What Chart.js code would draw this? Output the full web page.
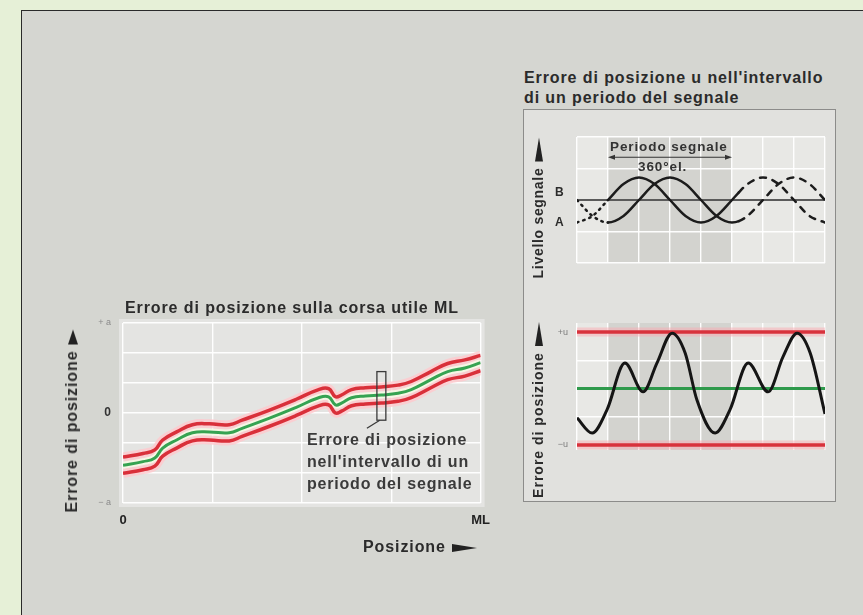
<!DOCTYPE html>
<html>
<head>
<meta charset="utf-8">
<script src="https://cdn.jsdelivr.net/npm/chart.js@4.4.1/dist/chart.umd.min.js"></script>
<style>
  body { margin: 0; width: 863px; height: 615px; background: #e6f0d7; overflow: hidden;
         font-family: "Liberation Sans", Arial, sans-serif; position: relative; }
  #panel { position: absolute; left: 21px; top: 10px; width: 842px; height: 605px; background: #d5d6d1;
           border-left: 1.5px solid #2a2a2a; border-top: 1.5px solid #2a2a2a; }
  #frame { position: absolute; left: 523px; top: 109px; width: 313px; height: 393px; box-sizing: border-box;
           background: #e1e1de; border: 1.5px solid #8c8c8a; }
  .t { position: absolute; font-weight: bold; color: #2b2b2b; white-space: nowrap; letter-spacing: 0.9px; }
  .rot { transform: translate(-50%, -50%) rotate(-90deg); }
  .wedge { display: inline-block; width: 0; height: 0; border-left: 22px solid #222;
           border-top: 4px solid transparent; border-bottom: 4px solid transparent;
           vertical-align: middle; margin-left: 6px; }
  canvas { position: absolute; }
</style>
</head>
<body>
<div id="panel"></div>
<div id="frame"></div>

<canvas id="pathChart" width="460" height="230" style="left:40px;top:300px"></canvas>
<canvas id="signalChart" width="313" height="170" style="left:523px;top:109px"></canvas>
<canvas id="errorChart" width="313" height="180" style="left:523px;top:300px"></canvas>

<div class="t" style="left:125px;top:299px;font-size:16px;line-height:18px">Errore di posizione sulla corsa utile ML</div>
<div class="t" style="left:524px;top:68px;font-size:16px;line-height:20px">Errore di posizione u nell'intervallo<br>di un periodo del segnale</div>
<div class="t" style="left:307px;top:429px;font-size:16px;line-height:22px;color:#3a3a3a;letter-spacing:0.8px">Errore di posizione<br>nell'intervallo di un<br>periodo del segnale</div>
<div class="t rot" style="left:72px;top:421px;font-size:16px">Errore di posizione<span class="wedge" style="border-left-width:15px;border-top-width:5px;border-bottom-width:5px"></span></div>
<div class="t" style="left:363px;top:538px;font-size:16px;line-height:18px">Posizione<span class="wedge" style="border-left-width:25px"></span></div>

<div class="t rot" style="left:538px;top:208px;font-size:14px;letter-spacing:0.7px">Livello segnale<span class="wedge" style="border-left-width:24px;border-top-width:4px;border-bottom-width:4px"></span></div>
<div class="t rot" style="left:538px;top:410px;font-size:14px;letter-spacing:1px">Errore di posizione<span class="wedge" style="border-left-width:24px;border-top-width:4px;border-bottom-width:4px"></span></div>
<div class="t" style="left:610px;top:139px;font-size:13.5px;line-height:16px;letter-spacing:0.9px;color:#333">Periodo segnale</div>
<div class="t" style="left:638px;top:159px;font-size:13.5px;line-height:16px;color:#333">360°el.</div>
<div class="t" style="left:555px;top:185px;font-size:12px;line-height:14px">B</div>
<div class="t" style="left:555px;top:215px;font-size:12px;line-height:14px">A</div>

<script>
  Chart.defaults.font.family = '"Liberation Sans", Arial, sans-serif';
  Chart.defaults.animation = false;

  // --- left chart: position error over the measuring length ML (x 0..1, y in units of a)
  const posX     = [0, 0.056, 0.089, 0.111, 0.15, 0.194, 0.242, 0.297, 0.333, 0.408, 0.483, 0.547,
                    0.575, 0.594, 0.611, 0.639, 0.678, 0.722, 0.769, 0.806, 0.861, 0.908, 0.956, 1];
  const errMid   = [-0.58, -0.54, -0.50, -0.39, -0.30, -0.22, -0.21, -0.22, -0.17, -0.06, 0.06, 0.17,
                    0.18, 0.09, 0.11, 0.17, 0.19, 0.20, 0.22, 0.26, 0.37, 0.46, 0.50, 0.56];
  const errUpper = [-0.49, -0.45, -0.41, -0.30, -0.21, -0.13, -0.12, -0.13, -0.08, 0.03, 0.15, 0.26,
                    0.27, 0.18, 0.20, 0.26, 0.28, 0.29, 0.31, 0.35, 0.46, 0.55, 0.59, 0.64];
  const errLower = [-0.67, -0.63, -0.59, -0.48, -0.39, -0.31, -0.30, -0.31, -0.26, -0.15, -0.03, 0.08,
                    0.09, 0.00, 0.02, 0.08, 0.10, 0.11, 0.13, 0.17, 0.28, 0.37, 0.41, 0.47];
  const posTicks = [0, 0.25, 0.5, 0.75, 1];
  const errTicks = [-1, -2 / 3, -1 / 3, 0, 1 / 3, 2 / 3, 1];
  const windowBox = { x: [0.71, 0.735], y: [-0.08, 0.46] };   // the one-period window
  const leaderLine = { x: [0.718, 0.682], y: [-0.08, -0.17] };

  // --- right charts: one signal period, x in electrical degrees
  const sigAngle = [-90, -45, 0, 45, 90, 135, 180, 225, 270, 315, 360, 380, 405, 450, 495, 540, 585, 630];
  const signalA  = [-1, -0.71, 0, 0.71, 1, 0.71, 0, -0.71, -1, -0.71, 0, 0.34, 0.71, 1, 0.71, 0, -0.71, -1];
  const signalB  = [0, -0.71, -1, -0.71, 0, 0.71, 1, 0.71, 0, -0.71, -1, -0.94, -0.71, 0, 0.71, 1, 0.71, 0];
  const errAngle = [-90, -46, -3, 49, 102, 142, 186, 224, 258, 311, 354, 407, 465, 508, 549, 587, 630];
  const errValue = [-0.52, -0.79, -0.38, 0.45, -0.06, 0.45, 0.98, 0.63, -0.2, -0.79, -0.38, 0.45,
                    -0.06, 0.56, 0.98, 0.63, -0.45];
  const lineAngle  = [-90, 630];
  const zeroLevel  = [0, 0];
  const upperLimit = [1, 1];
  const lowerLimit = [-1, -1];
  const angleTicks = [-90, 0, 90, 180, 270, 360, 450, 540, 630];
  const levelTicks = [-2.8, -1.4, 0, 1.4, 2.8];
  const uTicks     = [-1, -0.5, 0, 0.5, 1];
  const periodSpan = [0, 360];
  const periodArrowLevel = 1.9;

  const pts = (xs, ys) => xs.map((x, i) => ({ x: x, y: ys[i] }));
  const near = (a, b) => Math.abs(a - b) < 1e-6;
  const isZeroTick = ctx => !!(ctx.tick && near(ctx.tick.value, 0));

  function curve(xs, ys, colour, width, order, extra) {
    return Object.assign({
      data: pts(xs, ys), borderColor: colour, borderWidth: width, order: order,
      pointRadius: 0, cubicInterpolationMode: 'monotone', fill: false
    }, extra || {});
  }
  const smooth = { cubicInterpolationMode: 'default', tension: 0.45 };

  function fixedTicks(values) {
    return function (scale) { scale.ticks = values.map(v => ({ value: v })); };
  }

  function backdrop(colour, pad, shade) {
    return {
      id: 'backdrop',
      beforeDraw(chart) {
        const a = chart.chartArea, c = chart.ctx;
        c.save();
        c.fillStyle = colour;
        c.fillRect(a.left - pad, a.top - pad, a.right - a.left + 2 * pad, a.bottom - a.top + 2 * pad);
        if (shade) {
          const x0 = chart.scales.x.getPixelForValue(shade[0]);
          const x1 = chart.scales.x.getPixelForValue(shade[1]);
          c.fillStyle = '#d3d3cf';
          c.fillRect(x0, a.top, x1 - x0, a.bottom - a.top);
        }
        c.restore();
      }
    };
  }

  const gridWhite = { color: 'rgba(255,255,255,0.95)', lineWidth: 1.4, drawTicks: false };

  // left chart
  new Chart(document.getElementById('pathChart'), {
    type: 'line',
    data: {
      datasets: [
        curve(posX, errMid, '#36a352', 3, 1, smooth),
        curve(posX, errUpper, '#d9303a', 3.5, 2, smooth),
        curve(posX, errLower, '#d9303a', 3.5, 2, smooth),
        curve(posX, errMid, 'rgba(246,248,228,0.9)', 7, 3, smooth),
        curve(posX, errUpper, 'rgba(255,200,205,0.8)', 9, 4, smooth),
        curve(posX, errLower, 'rgba(255,200,205,0.8)', 9, 4, smooth)
      ]
    },
    options: {
      responsive: false,
      layout: { padding: { top: 23, right: 17, left: 0, bottom: 0 } },
      plugins: { legend: { display: false }, tooltip: { enabled: false } },
      scales: {
        x: {
          type: 'linear', min: 0, max: 1,
          afterBuildTicks: fixedTicks(posTicks),
          afterFit: s => { s.height = 27; },
          grid: gridWhite, border: { display: false },
          ticks: {
            autoSkip: false, maxRotation: 0, padding: 10, color: '#222',
            font: { size: 13, weight: 'bold' },
            callback: v => near(v, 0) ? '0' : (near(v, 1) ? 'ML' : '')
          }
        },
        y: {
          min: -1, max: 1,
          afterBuildTicks: fixedTicks(errTicks),
          afterFit: s => { s.width = 83; },
          grid: gridWhite, border: { display: false },
          ticks: {
            autoSkip: false, padding: 12,
            color: ctx => isZeroTick(ctx) ? '#333' : '#8a8a8a',
            font: ctx => isZeroTick(ctx) ? { size: 12, weight: 'bold' } : { size: 9 },
            callback: v => near(v, 1) ? '+ a' : (near(v, -1) ? '− a' : (near(v, 0) ? '0' : ''))
          }
        }
      }
    },
    plugins: [backdrop('#e4e4e2', 4), {
      id: 'window',
      afterDatasetsDraw(chart) {
        const sx = chart.scales.x, sy = chart.scales.y, c = chart.ctx;
        const x0 = sx.getPixelForValue(windowBox.x[0]), x1 = sx.getPixelForValue(windowBox.x[1]);
        const y0 = sy.getPixelForValue(windowBox.y[1]), y1 = sy.getPixelForValue(windowBox.y[0]);
        c.save();
        c.strokeStyle = '#3a3a3a';
        c.lineWidth = 1.3;
        c.strokeRect(x0, y0, x1 - x0, y1 - y0);
        c.beginPath();
        c.moveTo(sx.getPixelForValue(leaderLine.x[0]), sy.getPixelForValue(leaderLine.y[0]));
        c.lineTo(sx.getPixelForValue(leaderLine.x[1]), sy.getPixelForValue(leaderLine.y[1]));
        c.stroke();
        c.restore();
      }
    }]
  });

  // signal chart (A and B)
  const signalDash = {
    borderDash: ctx => ctx.p0.parsed.x < 0 ? [1.5, 5] : (ctx.p0.parsed.x >= 380 ? [6, 7] : undefined)
  };
  new Chart(document.getElementById('signalChart'), {
    type: 'line',
    data: {
      datasets: [
        curve(sigAngle, signalA, '#1c1c1c', 2.5, 1, { segment: signalDash, borderCapStyle: 'round' }),
        curve(sigAngle, signalB, '#1c1c1c', 2.5, 1, { segment: signalDash, borderCapStyle: 'round' }),
        curve(lineAngle, zeroLevel, '#5a5a5a', 2, 2)
      ]
    },
    options: {
      responsive: false,
      layout: { padding: { top: 28, right: 11, left: 54, bottom: 16 } },
      plugins: { legend: { display: false }, tooltip: { enabled: false } },
      scales: {
        x: {
          type: 'linear', min: -90, max: 630,
          afterBuildTicks: fixedTicks(angleTicks),
          afterFit: s => { s.height = 0; },
          grid: gridWhite, border: { display: false }, ticks: { display: false }
        },
        y: {
          min: -2.8, max: 2.8,
          afterBuildTicks: fixedTicks(levelTicks),
          afterFit: s => { s.width = 0; },
          grid: gridWhite, border: { display: false }, ticks: { display: false }
        }
      }
    },
    plugins: [backdrop('#e8e8e5', 0, periodSpan), {
      id: 'periodArrow',
      afterDatasetsDraw(chart) {
        const sx = chart.scales.x, c = chart.ctx;
        const x0 = sx.getPixelForValue(periodSpan[0]), x1 = sx.getPixelForValue(periodSpan[1]);
        const y = chart.scales.y.getPixelForValue(periodArrowLevel);
        c.save();
        c.strokeStyle = '#333'; c.fillStyle = '#333'; c.lineWidth = 1.2;
        c.beginPath(); c.moveTo(x0 + 3, y); c.lineTo(x1 - 3, y); c.stroke();
        c.beginPath(); c.moveTo(x0, y); c.lineTo(x0 + 7, y - 2.5); c.lineTo(x0 + 7, y + 2.5); c.closePath(); c.fill();
        c.beginPath(); c.moveTo(x1, y); c.lineTo(x1 - 7, y - 2.5); c.lineTo(x1 - 7, y + 2.5); c.closePath(); c.fill();
        c.restore();
      }
    }]
  });

  // position error within one signal period
  new Chart(document.getElementById('errorChart'), {
    type: 'line',
    data: {
      datasets: [
        curve(errAngle, errValue, '#151515', 3, 1),
        curve(lineAngle, upperLimit, '#d8323c', 3.5, 2),
        curve(lineAngle, lowerLimit, '#d8323c', 3.5, 2),
        curve(lineAngle, zeroLevel, '#2f9a4c', 3, 2),
        curve(lineAngle, upperLimit, 'rgba(250,170,178,0.5)', 9, 3),
        curve(lineAngle, lowerLimit, 'rgba(250,170,178,0.5)', 9, 3)
      ]
    },
    options: {
      responsive: false,
      layout: { padding: { top: 23, right: 11, left: 0, bottom: 30 } },
      plugins: { legend: { display: false }, tooltip: { enabled: false } },
      scales: {
        x: {
          type: 'linear', min: -90, max: 630,
          afterBuildTicks: fixedTicks(angleTicks),
          afterFit: s => { s.height = 0; },
          grid: gridWhite, border: { display: false }, ticks: { display: false }
        },
        y: {
          min: -1.09, max: 1.16,
          afterBuildTicks: fixedTicks(uTicks),
          afterFit: s => { s.width = 54; },
          grid: gridWhite, border: { display: false },
          ticks: {
            autoSkip: false, padding: 9, color: '#7c7c7c', font: { size: 9 },
            callback: v => near(v, 1) ? '+u' : (near(v, -1) ? '−u' : '')
          }
        }
      }
    },
    plugins: [backdrop('#e8e8e5', 0, periodSpan)]
  });
</script>
</body>
</html>
